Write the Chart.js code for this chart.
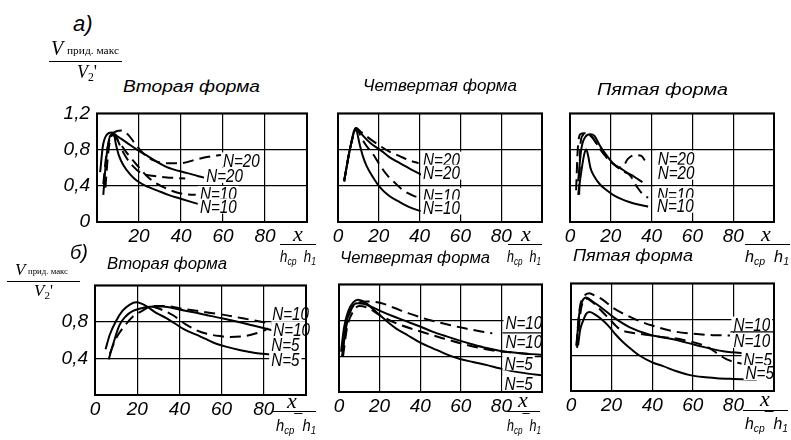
<!DOCTYPE html>
<html><head><meta charset="utf-8">
<script src="https://cdn.jsdelivr.net/npm/chart.js@4/dist/chart.umd.min.js"></script>
<style>
html,body{margin:0;padding:0;background:#fff;}
#root{position:relative;width:791px;height:440px;overflow:hidden;background:#fff;}
#root canvas{position:absolute;}
.t{position:absolute;white-space:nowrap;color:#000;line-height:1;transform-origin:0 0;}
.sans{font-family:'Liberation Sans','DejaVu Sans',sans-serif;font-style:italic;}
.serif{font-family:'Liberation Serif','DejaVu Serif',serif;}
.hl{position:absolute;background:#000;height:1px;}
sub{font-size:65%;vertical-align:-0.25em;line-height:0;}
</style></head>
<body><div id="root"></div>
<script>
// ---------- data ----------
const xTickValues = [0, 20, 40, 60, 80, 100];
const yTickValues = [0, 0.4, 0.8, 1.2];
const titles = ['Вторая форма', 'Четвертая форма', 'Пятая форма', 'Вторая форма', 'Четвертая форма', 'Пятая форма'];

// Panel 1 (а, Вторая форма)
const p1N20dash  = [[3,0.42],[4.5,0.75],[6.5,0.95],[9,1.0],[12,1.01],[15,0.96],[18,0.87],[22,0.76],[27,0.68],[33,0.65],[40,0.65],[47,0.69],[53,0.72],[59,0.74]];
const p1N20solid = [[1.5,0.55],[2.8,0.84],[4.5,0.96],[7,0.99],[9.5,0.95],[14,0.88],[19,0.8],[24,0.73],[33,0.61],[43,0.54],[51,0.49]];
const p1N20dashB = [[9,0.96],[11,0.84],[14,0.71],[17,0.62],[21,0.54],[28,0.505],[35,0.49],[42,0.48]];
const p1N10dash  = [[4,0.38],[5.5,0.8],[7.5,0.96],[10,0.9],[14,0.77],[19,0.63],[25,0.48],[33,0.37],[41,0.31],[47,0.3]];
const p1N10solid = [[3,0.3],[4.5,0.72],[6.5,0.96],[8,0.97],[9,0.86],[10.5,0.73],[12.5,0.63],[16,0.52],[19,0.455],[24,0.39],[28.5,0.35],[34,0.3],[39.5,0.26],[48,0.2]];
// Panel 2 (а, Четвертая форма)
const p2N20dash  = [[3,0.45],[6,0.82],[9,1.03],[11,1.0],[15,0.93],[20,0.85],[25,0.78],[30,0.73],[35,0.68],[39.5,0.65]];
const p2N20solid = [[3,0.45],[6,0.82],[9,1.04],[12,0.96],[16,0.87],[20.5,0.8],[25,0.72],[30.3,0.65],[36,0.58],[41,0.52]];
const p2N10dash  = [[3,0.45],[6,0.82],[9,1.03],[11.5,0.93],[14,0.84],[17.2,0.75],[20.5,0.63],[24,0.52],[28,0.43],[32,0.35],[36,0.3],[40.5,0.26]];
const p2N10solid = [[3,0.45],[6,0.82],[8.5,1.04],[10.7,0.85],[12.3,0.72],[14,0.62],[17,0.5],[20.5,0.385],[25,0.29],[30.3,0.22],[35,0.165],[40.5,0.12]];
// Panel 3 (а, Пятая форма)
const p3N20dash  = [[3,0.35],[3.8,0.8],[5,0.97],[7,0.98],[10.5,0.95],[14.6,0.81],[18,0.71],[22.8,0.615],[25.3,0.6],[28.5,0.7],[31.8,0.74],[35,0.73],[36.7,0.68]];
const p3N20solid = [[4,0.45],[5.5,0.8],[7.5,0.94],[10,0.97],[12,0.95],[14.6,0.846],[17.5,0.75],[21.1,0.648],[25,0.59],[27.7,0.55],[31.5,0.5],[35.5,0.44]];
const p3N10dash  = [[4.5,0.3],[5,0.8],[6,0.95],[8,0.98],[11,0.93],[14.6,0.81],[18,0.72],[22,0.63],[26,0.56],[29.4,0.516],[32.8,0.39],[36,0.3],[38.3,0.268]];
const p3N10solid = [[4,0.3],[5.5,0.55],[7,0.75],[8,0.8],[9,0.72],[10,0.6],[12,0.5],[14.6,0.417],[18,0.35],[21.1,0.3],[25,0.255],[29.4,0.218],[34,0.19],[38.3,0.169]];
// Panel 4 (б, Вторая форма)
const p4N10dash  = [[7,0.45],[10,0.62],[14.5,0.77],[18,0.86],[21.5,0.91],[27.5,0.975],[33,0.975],[40,0.95],[50,0.915],[60.5,0.88],[70,0.84],[77,0.81],[84,0.78]];
const p4N10solid = [[6.5,0.39],[8.5,0.55],[11.5,0.76],[14.5,0.86],[18,0.92],[22,0.95],[26,0.965],[32,0.97],[40,0.935],[50,0.89],[58,0.85],[66,0.81],[75,0.76],[84,0.71]];
const p4N10dashB = [[27,0.97],[32,0.93],[37,0.873],[43,0.774],[48,0.71],[53,0.67],[59,0.645],[64,0.635],[69,0.64],[74,0.66],[79.5,0.70],[82,0.73]];
const p4N5solid  = [[5,0.5],[7,0.66],[10,0.81],[13,0.92],[16.5,0.99],[19.5,1.015],[22,1.0],[24.5,0.97],[29,0.9],[34,0.84],[43,0.71],[50,0.64],[56,0.575],[62,0.53],[69,0.49],[76,0.46],[83,0.443]];
// Panel 5 (б, Четвертая форма)
const p5N10dash  = [[2,0.48],[3.5,0.72],[6,0.92],[9,0.99],[14,1.01],[21,0.99],[27,0.94],[34,0.88],[45,0.8],[55,0.745],[62,0.71],[70,0.675],[75.5,0.655]];
const p5N10solid = [[1.5,0.4],[3.5,0.76],[6,0.93],[9,0.99],[12,0.985],[16,0.95],[20,0.908],[26,0.85],[33,0.79],[40,0.73],[46,0.674],[53,0.62],[59.5,0.573],[66,0.53],[72.7,0.49],[79,0.46],[86,0.44],[93,0.425],[100,0.415]];
const p5N10dashB = [[2,0.4],[4,0.72],[7,0.9],[10,0.96],[14,0.94],[20,0.858],[28,0.768],[38,0.69],[51,0.6],[64.5,0.516],[76,0.463],[86,0.44],[96,0.42]];
const p5N5solid  = [[1,0.45],[2.5,0.72],[4.5,0.9],[7,1.0],[9.5,1.03],[12,1.01],[14,0.98],[17,0.92],[20,0.86],[24,0.78],[28,0.71],[34,0.63],[40,0.55],[46,0.49],[53,0.42],[60,0.365],[66,0.335],[73,0.3],[79,0.265],[86,0.23],[93,0.205],[100,0.185]];
// Panel 6 (б, Пятая форма)
const p6N10dash  = [[2.7,0.51],[3.5,0.75],[4.5,0.95],[6.5,1.06],[9,1.09],[12,1.06],[15,1.027],[20.7,0.927],[26,0.86],[32.3,0.793],[40,0.73],[51.2,0.663],[60,0.64],[70,0.623],[78.3,0.62]];
const p6N10solid = [[2.7,0.5],[4,0.85],[5.5,1.0],[7.6,1.043],[10.5,1.0],[14.2,0.943],[20.7,0.827],[29,0.71],[38.8,0.627],[50.3,0.577],[61.9,0.51],[75,0.443],[88.2,0.417]];
const p6N5dash   = [[3,0.48],[4.5,0.85],[6,1.0],[8,1.03],[10,1.0],[12.5,0.95],[16,0.87],[19,0.8],[24,0.69],[30,0.65],[38,0.625],[45.7,0.6],[52,0.585],[58.9,0.55],[64,0.52],[68,0.48],[72,0.42],[76.5,0.355],[81,0.32],[85,0.3]];
const p6N5solid  = [[3.5,0.51],[4.5,0.68],[5.9,0.78],[7.5,0.86],[9.2,0.88],[12.5,0.843],[16,0.78],[19.1,0.71],[22,0.63],[25.7,0.543],[30,0.46],[33.9,0.393],[40,0.32],[45.4,0.277],[52,0.22],[58.6,0.177],[65,0.155],[71.7,0.143],[80,0.135],[91.5,0.127]];

// curve labels (text) and their anchors in data units (left x, middle y)
const labelsTop = ['N=20', 'N=20', 'N=10', 'N=10'];
const labelsBottom = ['N=10', 'N=10', 'N=5', 'N=5'];
const p1LabelAt = [[60,0.68],[52,0.51],[49,0.31],[49,0.17]];
const p2LabelAt = [[41.7,0.69],[41.7,0.545],[41.7,0.29],[41.7,0.16]];
const p3LabelAt = [[43,0.70],[43,0.545],[42.6,0.305],[42.6,0.18]];
const p4LabelAt = [[84,0.895],[84.5,0.72],[83.5,0.55],[83.5,0.39]];
const p5LabelAt = [[82,0.77],[82,0.56],[81.5,0.32],[81.5,0.09]];
const p6LabelAt = [[80,0.74],[80,0.56],[85,0.35],[86,0.2]];

// ---------- drawing ----------
const SANS = "'Liberation Sans','DejaVu Sans',sans-serif";
const root = document.getElementById('root');

const framePlugin = {
  id: 'frame',
  afterDraw(chart) {
    const a = chart.chartArea, ctx = chart.ctx;
    ctx.save(); ctx.strokeStyle = '#000'; ctx.lineWidth = 2;
    ctx.strokeRect(a.left, a.top, a.right - a.left, a.bottom - a.top);
    ctx.restore();
  }
};
const notesPlugin = {
  id: 'notes',
  afterDatasetsDraw(chart, args, opts) {
    const ctx = chart.ctx, xs = chart.scales.x, ys = chart.scales.y;
    const sx = 0.8;
    ctx.save();
    ctx.font = 'italic 19px ' + SANS;
    ctx.textBaseline = 'middle'; ctx.textAlign = 'left';
    (opts.items || []).forEach(n => {
      const px = xs.getPixelForValue(n.at[0]), py = ys.getPixelForValue(n.at[1]);
      const w = ctx.measureText(n.text).width * sx;
      ctx.fillStyle = '#fff'; ctx.fillRect(px - 2, py - 8, w + 4, 15);
      ctx.save(); ctx.translate(px, py + 1); ctx.scale(sx, 1);
      ctx.fillStyle = '#000'; ctx.fillText(n.text, 0, 0);
      ctx.restore();
      if (n.bar) {
        ctx.strokeStyle = '#000'; ctx.lineWidth = 1.3;
        ctx.beginPath(); ctx.moveTo(px - 3, py - 9); ctx.lineTo(chart.chartArea.right, py - 9); ctx.stroke();
      }
    });
    ctx.restore();
  }
};

function near(v, list) { return list.some(u => Math.abs(u - v) < 1e-6); }
function fmtY(v) { return Math.abs(v) < 1e-9 ? '0' : v.toFixed(1).replace('.', ','); }

function makePanel(p) {
  const A = p.area, YW = 46, XH = 30, PT = 6, PR = 8;
  const cv = document.createElement('canvas');
  cv.width = YW + A.w + PR; cv.height = PT + A.h + XH;
  cv.style.left = (A.l - YW) + 'px'; cv.style.top = (A.t - PT) + 'px';
  root.appendChild(cv);
  const tickFont = { family: SANS, style: 'italic', size: 19 };
  new Chart(cv.getContext('2d'), {
    type: 'line',
    data: {
      datasets: p.series.map(s => ({
        data: s.pts.map(([x, y]) => ({ x, y })),
        borderColor: '#000', borderWidth: 2, borderDash: s.dash ? [11, 6] : [],
        pointRadius: 0, fill: false, cubicInterpolationMode: 'monotone'
      }))
    },
    options: {
      responsive: false, devicePixelRatio: 1, animation: false, events: [],
      layout: { padding: { left: 0, top: PT, right: PR, bottom: 0 } },
      plugins: { legend: { display: false }, tooltip: { enabled: false }, notes: { items: p.notes } },
      scales: {
        x: {
          type: 'linear', min: 0, max: 100,
          afterFit(s) { s.height = XH; },
          afterBuildTicks(s) { s.ticks = xTickValues.map(v => ({ value: v })); },
          ticks: { autoSkip: false, maxRotation: 0, padding: 3, color: '#000', font: tickFont,
                   callback: v => near(v, p.showX) ? String(v) : '' },
          grid: { color: '#000', lineWidth: 1.2, drawTicks: false },
          border: { display: false }
        },
        y: {
          type: 'linear', min: 0, max: 1.2,
          afterFit(s) { s.width = YW; },
          afterBuildTicks(s) { s.ticks = yTickValues.map(v => ({ value: v })); },
          ticks: { autoSkip: false, padding: 7, color: '#000', font: tickFont,
                   callback: v => near(v, p.showY) ? fmtY(v) : '' },
          grid: { color: '#000', lineWidth: 1.2, drawTicks: false },
          border: { display: false }
        }
      }
    },
    plugins: [notesPlugin, framePlugin]
  });
}

function notes(texts, at, barIndex) {
  return texts.map((t, i) => ({ text: t, at: at[i], bar: i === barIndex }));
}

const panels = [
  { area: { l: 97, t: 101, w: 210, h: 121 }, showX: [20, 40, 60, 80], showY: [0, 0.4, 0.8, 1.2],
    series: [{ pts: p1N20dash, dash: true }, { pts: p1N20solid }, { pts: p1N20dashB, dash: true }, { pts: p1N10dash, dash: true }, { pts: p1N10solid }],
    notes: notes(labelsTop, p1LabelAt, -1) },
  { area: { l: 338, t: 101, w: 204, h: 121 }, showX: [0, 20, 40, 60, 80], showY: [],
    series: [{ pts: p2N20dash, dash: true }, { pts: p2N20solid }, { pts: p2N10dash, dash: true }, { pts: p2N10solid }],
    notes: notes(labelsTop, p2LabelAt, -1) },
  { area: { l: 570, t: 101, w: 204, h: 121 }, showX: [0, 20, 40, 60, 80], showY: [],
    series: [{ pts: p3N20dash, dash: true }, { pts: p3N20solid }, { pts: p3N10dash, dash: true }, { pts: p3N10solid }],
    notes: notes(labelsTop, p3LabelAt, -1) },
  { area: { l: 95, t: 273, w: 211, h: 122 }, showX: [0, 20, 40, 60, 80], showY: [0.4, 0.8],
    series: [{ pts: p4N10dash, dash: true }, { pts: p4N10solid }, { pts: p4N10dashB, dash: true }, { pts: p4N5solid }],
    notes: notes(labelsBottom, p4LabelAt, -1) },
  { area: { l: 339, t: 272, w: 203, h: 120 }, showX: [0, 20, 40, 60, 80], showY: [],
    series: [{ pts: p5N10dash, dash: true }, { pts: p5N10solid }, { pts: p5N10dashB, dash: true }, { pts: p5N5solid }],
    notes: notes(labelsBottom, p5LabelAt, 1) },
  { area: { l: 571, t: 271, w: 203, h: 120 }, showX: [0, 20, 40, 60, 80], showY: [],
    series: [{ pts: p6N10dash, dash: true }, { pts: p6N10solid }, { pts: p6N5dash, dash: true }, { pts: p6N5solid }],
    notes: notes(labelsBottom, p6LabelAt, 1) }
];
panels.forEach(makePanel);

// ---------- texts ----------
function txt(html, left, baseline, size, cls, width) {
  const d = document.createElement('div');
  d.className = 't ' + cls;
  d.style.fontSize = size + 'px';
  d.style.left = left + 'px';
  d.style.top = (baseline - 0.84 * size) + 'px';
  d.innerHTML = html;
  root.appendChild(d);
  if (width) {
    const w = d.getBoundingClientRect().width;
    if (w > 0) d.style.transform = 'scaleX(' + (width / w) + ')';
  }
  return d;
}
function hline(x1, x2, y) {
  const d = document.createElement('div');
  d.className = 'hl';
  d.style.left = x1 + 'px'; d.style.width = (x2 - x1) + 'px'; d.style.top = y + 'px';
  root.appendChild(d);
}

txt('а)', 73, 31, 22, 'sans');
txt('б)', 70, 259, 20, 'sans');

// y-axis quantity (top)
txt('<i>V</i>', 51, 55, 20, 'serif');
txt('прид. макс', 67, 54.5, 10, 'serif', 52);
hline(49, 122, 61);
txt('<i>V</i><sub>2</sub>\'', 77, 78, 18, 'serif');
// y-axis quantity (bottom)
txt('<i>V</i>', 15, 275, 17, 'serif');
txt('прид. макс', 28, 275, 9, 'serif', 40);
hline(7, 80, 281);
txt('<i>V</i><sub>2</sub>\'', 34, 296, 17, 'serif');

// panel titles
const titlePos = [[123, 92.5, 137], [363, 91, 154], [597, 95, 131], [107, 269.5, 120], [340, 263.5, 150], [573, 261.5, 120]];
titles.forEach((t, i) => txt(t, titlePos[i][0], titlePos[i][1], 16, 'sans', titlePos[i][2]));

// x-axis quantity  x / (h_cp - h_1)
const xTitlePos = [
  [293, 241, 280, 316, 244, 280, 262, 36],
  [521, 241, 508, 542, 244, 507, 262, 34],
  [761, 241, 745, 790, 244, 745, 262, 44],
  [287, 408, 272, 316, 411, 276, 431, 40],
  [518, 407, 507, 540, 411, 507, 431, 34],
  [760, 406, 743, 788, 410, 745, 429, 43]
];
xTitlePos.forEach(q => {
  txt('<i>x</i>', q[0], q[1], 22, 'serif');
  hline(q[2], q[3], q[4]);
  txt('h<sub>cp</sub><span style="position:relative;top:-5px">¯</span>h<sub>1</sub>', q[5], q[6], 17, 'sans', q[7]);
});
</script>
</body></html>
